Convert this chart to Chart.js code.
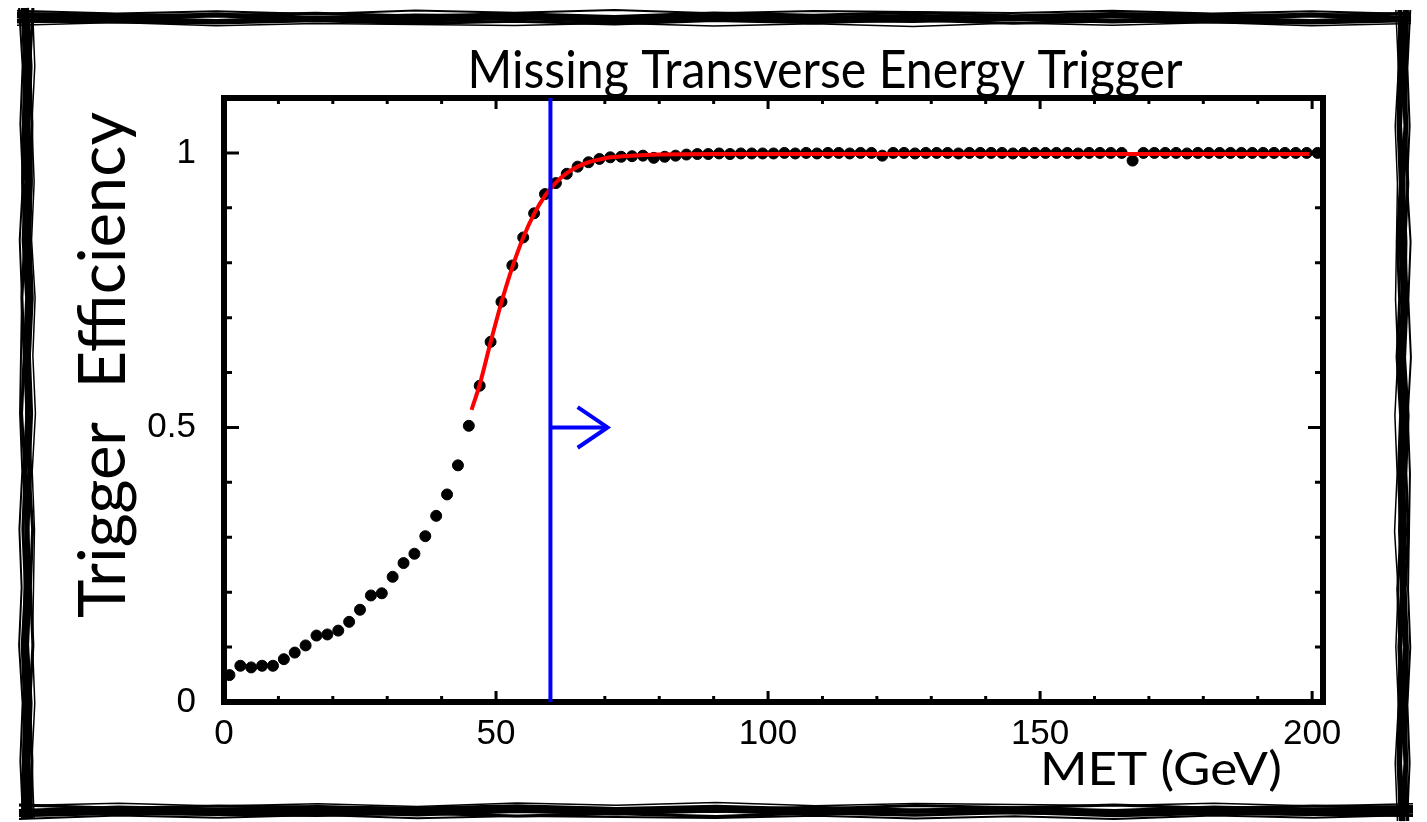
<!DOCTYPE html>
<html>
<head>
<meta charset="utf-8">
<script src="https://cdn.jsdelivr.net/npm/chart.js@4.4.1/dist/chart.umd.min.js"></script>
<style>
  html, body { margin: 0; padding: 0; background: #fff; }
  #wrap { width: 1427px; height: 822px; }
</style>
</head>
<body>
<div id="wrap"><canvas id="chart" width="1427" height="822"></canvas></div>
<script>
// MET bin centres (GeV) and measured trigger efficiency
const metBins = [
  1, 3, 5, 7, 9, 11, 13, 15, 17, 19, 21, 23, 25, 27, 29, 31, 33, 35, 37, 39,
  41, 43, 45, 47, 49, 51, 53, 55, 57, 59, 61, 63, 65, 67, 69, 71, 73, 75, 77, 79,
  81, 83, 85, 87, 89, 91, 93, 95, 97, 99, 101, 103, 105, 107, 109, 111, 113, 115, 117, 119,
  121, 123, 125, 127, 129, 131, 133, 135, 137, 139, 141, 143, 145, 147, 149, 151, 153, 155, 157, 159,
  161, 163, 165, 167, 169, 171, 173, 175, 177, 179, 181, 183, 185, 187, 189, 191, 193, 195, 197, 199,
  201
];
const efficiency = [
  0.049, 0.066, 0.063, 0.066, 0.066, 0.078, 0.090, 0.103, 0.121, 0.123,
  0.130, 0.146, 0.168, 0.194, 0.198, 0.228, 0.253, 0.270, 0.302, 0.339,
  0.378, 0.431, 0.503, 0.576, 0.656, 0.729, 0.795, 0.846, 0.890, 0.925,
  0.945, 0.962, 0.975, 0.983, 0.989, 0.992, 0.993, 0.994, 0.995, 0.991,
  0.993, 0.995, 0.997, 0.998, 0.998, 0.999, 0.998, 0.999, 0.999, 0.999,
  0.999, 1.0, 0.999, 1.0, 0.999, 1.0, 1.0, 0.999, 1.0, 1.0,
  0.995, 1.0, 1.0, 0.999, 1.0, 1.0, 1.0, 0.999, 1.0, 1.0,
  1.0, 1.0, 0.999, 1.0, 1.0, 1.0, 1.0, 1.0, 0.999, 1.0,
  1.0, 1.0, 1.0, 0.986, 1.0, 1.0, 1.0, 1.0, 0.999, 1.0,
  1.0, 1.0, 1.0, 1.0, 1.0, 1.0, 1.0, 1.0, 1.0, 1.0,
  1.0
];

// fitted turn-on curve
const fitMet = [45.5, 47, 49, 51, 53, 55, 57, 59, 61, 63, 65, 67, 69, 71, 75, 80, 90, 100, 199.5];
const fitEff = [0.532, 0.578, 0.655, 0.728, 0.792, 0.846, 0.889, 0.922, 0.946, 0.963, 0.975, 0.983, 0.988, 0.992, 0.995, 0.997, 0.998, 0.998, 0.998];

// offline cut at 60 GeV and its arrow
const cutMet = [60, 60];
const cutEff = [0, 1.1];
const arrowMet = [60, 70.5];
const arrowEff = [0.5, 0.5];
const arrowHeadMet = [65, 70.5, 65];
const arrowHeadEff = [0.537, 0.5, 0.463];

const xTickValues = [0, 50, 100, 150, 200];
const xMinorTicks = [10, 20, 30, 40, 60, 70, 80, 90, 110, 120, 130, 140, 160, 170, 180, 190];
const yTickValues = [0, 0.5, 1];
const yMinorTicks = [0.1, 0.2, 0.3, 0.4, 0.6, 0.7, 0.8, 0.9, 1.1];

const toPoints = (xs, ys) => xs.map((x, i) => ({ x: x, y: ys[i] }));

const humanist = 'Lato, "Open Sans", sans-serif';
const tickFont = '"Liberation Sans Narrow", "Liberation Sans", Arial, sans-serif';

// text squeezed horizontally to a given width (the original uses Gill Sans)
function fitText(ctx, text, x, y, size, width, align) {
  ctx.save();
  ctx.font = size + 'px ' + humanist;
  const w = ctx.measureText(text).width;
  const sx = width / w;
  ctx.translate(x, y);
  ctx.scale(sx, 1);
  ctx.textAlign = align;
  ctx.textBaseline = 'alphabetic';
  ctx.fillStyle = '#000';
  ctx.fillText(text, 0, 0);
  ctx.restore();
}

const wobble = [0, 1.2, -1.6, 2.0, -0.8, 2.4, -2.0, 0.8, -2.4, 1.6, -1.2];
function sketchStroke(ctx, x1, y1, x2, y2, off, width) {
  const len = Math.hypot(x2 - x1, y2 - y1);
  const nx = -(y2 - y1) / len, ny = (x2 - x1) / len;
  const steps = 14;
  ctx.lineWidth = width;
  ctx.beginPath();
  for (let i = 0; i <= steps; i++) {
    const t = i / steps;
    const w = off + wobble[(i + Math.round(off * 3) + 20) % wobble.length] * 0.8;
    const px = x1 + (x2 - x1) * t + nx * w;
    const py = y1 + (y2 - y1) * t + ny * w;
    if (i === 0) ctx.moveTo(px, py); else ctx.lineTo(px, py);
  }
  ctx.stroke();
}

const decorations = {
  id: 'decorations',
  beforeDatasetsDraw(chart) {
    const ctx = chart.ctx;
    const a = chart.chartArea;
    const xs = chart.scales.x, ys = chart.scales.y;
    ctx.save();
    ctx.strokeStyle = '#000';
    ctx.lineCap = 'butt';

    // plot frame
    ctx.lineWidth = 6;
    ctx.strokeRect(a.left, a.top, a.right - a.left, a.bottom - a.top);

    // inward ticks on all four sides
    const xTick = (v, len) => {
      const px = xs.getPixelForValue(v);
      ctx.beginPath();
      ctx.moveTo(px, a.bottom); ctx.lineTo(px, a.bottom - len);
      ctx.moveTo(px, a.top); ctx.lineTo(px, a.top + len);
      ctx.stroke();
    };
    const yTick = (v, len) => {
      const py = ys.getPixelForValue(v);
      ctx.beginPath();
      ctx.moveTo(a.left, py); ctx.lineTo(a.left + len, py);
      ctx.moveTo(a.right, py); ctx.lineTo(a.right - len, py);
      ctx.stroke();
    };
    ctx.lineWidth = 3;
    xTickValues.forEach(v => xTick(v, 11));
    xMinorTicks.forEach(v => xTick(v, 6));
    yTickValues.forEach(v => yTick(v, 15));
    yMinorTicks.forEach(v => yTick(v, 8));

    // hand-drawn outer border
    const L = 27, T = 18, R = 1403, B = 811;
    const passes = [[-6, 2], [-3.5, 3], [-1, 5], [1.5, 5], [4, 3], [6.5, 1.5]];
    passes.forEach(([off, w]) => {
      sketchStroke(ctx, L - 10, T, R + 8, T, off, w);
      sketchStroke(ctx, L - 8, B, R + 10, B, -off, w);
      sketchStroke(ctx, L, T - 10, L, B + 8, -off, w);
      sketchStroke(ctx, R, T - 8, R, B + 10, off, w);
    });
    ctx.restore();
  },
  afterDraw(chart) {
    const ctx = chart.ctx;
    fitText(ctx, 'Missing Transverse Energy Trigger', 825, 88, 53, 715, 'center');
    fitText(ctx, 'MET (GeV)', 1040, 785, 46, 242, 'left');
    ctx.save();
    ctx.translate(125, 365);
    ctx.rotate(-Math.PI / 2);
    fitText(ctx, 'Trigger  Efficiency', 0, 0, 66, 506, 'center');
    ctx.restore();
  }
};

new Chart(document.getElementById('chart'), {
  type: 'scatter',
  data: {
    datasets: [
      {
        label: 'cut',
        type: 'line',
        data: toPoints(cutMet, cutEff),
        borderColor: '#0000ff',
        borderWidth: 4,
        pointRadius: 0,
        fill: false
      },
      {
        label: 'arrow',
        type: 'line',
        data: toPoints(arrowMet, arrowEff),
        borderColor: '#0000ff',
        borderWidth: 4,
        pointRadius: 0,
        fill: false
      },
      {
        label: 'arrow head',
        type: 'line',
        data: toPoints(arrowHeadMet, arrowHeadEff),
        borderColor: '#0000ff',
        borderWidth: 4,
        pointRadius: 0,
        fill: false
      },
      {
        label: 'fit',
        type: 'line',
        data: toPoints(fitMet, fitEff),
        borderColor: '#ff0000',
        borderWidth: 4,
        pointRadius: 0,
        cubicInterpolationMode: 'monotone',
        fill: false
      },
      {
        label: 'efficiency',
        data: toPoints(metBins, efficiency),
        backgroundColor: '#000',
        borderColor: '#000',
        pointRadius: 5.5,
        pointHoverRadius: 5.5
      }
    ]
  },
  options: {
    responsive: false,
    animation: false,
    layout: { padding: { left: 0, top: 98, right: 104, bottom: 60 } },
    plugins: {
      legend: { display: false },
      tooltip: { enabled: false }
    },
    scales: {
      x: {
        type: 'linear',
        min: 0,
        max: 202,
        border: { display: false },
        grid: { display: false },
        afterBuildTicks: scale => { scale.ticks = xTickValues.map(v => ({ value: v })); },
        afterFit: scale => { scale.height = 60; },
        ticks: {
          padding: 3,
          autoSkip: false,
          maxRotation: 0,
          color: '#000',
          font: { family: tickFont, size: 35 },
          callback: v => String(v)
        }
      },
      y: {
        type: 'linear',
        min: 0,
        max: 1.1,
        border: { display: false },
        grid: { display: false },
        afterBuildTicks: scale => { scale.ticks = yTickValues.map(v => ({ value: v })); },
        afterFit: scale => { scale.width = 224; },
        ticks: {
          padding: 20,
          color: '#000',
          font: { family: tickFont, size: 35 },
          callback: v => String(v)
        }
      }
    }
  },
  plugins: [decorations]
});
</script>
</body>
</html>
